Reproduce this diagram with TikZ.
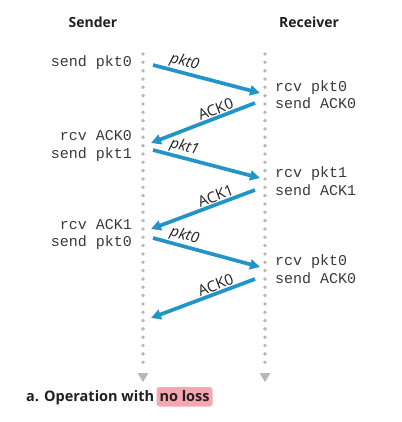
\documentclass[tikz,border=0pt]{standalone}
\usepackage{fontspec}
\setmainfont{Open Sans}
\setmonofont{Liberation Mono}
\usetikzlibrary{arrows.meta,calc}

\definecolor{arrowblue}{HTML}{2394C8}
\definecolor{dotgray}{HTML}{B8B8B8}
\definecolor{hlpink}{HTML}{F4A7AE}
\definecolor{txtdark}{HTML}{231F20}
\definecolor{monotxt}{HTML}{3A3A3A}

\begin{document}
\begin{tikzpicture}[x=1pt,y=-1pt,
  title/.style={font=\fontsize{14}{16}\selectfont\bfseries, text=txtdark, inner sep=0pt},
  evtl/.style={font=\fontsize{15}{17}\selectfont\ttfamily, text=monotxt, anchor=base east, inner sep=0pt},
  evtr/.style={font=\fontsize{15}{17}\selectfont\ttfamily, text=monotxt, anchor=base west, inner sep=0pt},
  msg/.style={draw=arrowblue, line width=3.7pt, -{Triangle[length=10pt,width=10pt]}},
  pktlbl/.style={font=\fontsize{15}{17}\selectfont\itshape, sloped, above, text=txtdark, inner sep=1pt},
  acklbl/.style={font=\fontsize{15}{17}\selectfont, sloped, above, text=txtdark, inner sep=1pt},
  timeline/.style={dotgray, line width=3.8pt, line cap=round, dash pattern=on 0pt off 8.33pt},
  captxt/.style={font=\fontsize{14.5}{16}\selectfont\bfseries, text=txtdark},
]
\useasboundingbox (0,0) rectangle (401,422);

% titles
\node[title] (sender) at (93,22) {Sender};
\node[title] (receiver) at (309,22) {Receiver};

% timelines
\coordinate (stop) at (143,54);
\coordinate (sbot) at (143,368);
\coordinate (rtop) at (265,54);
\coordinate (rbot) at (265,368);
\draw[timeline] (stop) -- (sbot);
\draw[timeline] (rtop) -- (rbot);
\fill[dotgray] (137.5,373) -- (148.5,373) -- (143,382) -- cycle;
\fill[dotgray] (259.5,373) -- (270.5,373) -- (265,382) -- cycle;

% events
\node[evtl] (e1) at (132,67) {send pkt0};
\node[evtr] (e2) at (275,92) {rcv pkt0};
\node[evtr] (e3) at (275,109) {send ACK0};
\node[evtl] (e4) at (132,140) {rcv ACK0};
\node[evtl] (e5) at (132,158) {send pkt1};
\node[evtr] (e6) at (275,177) {rcv pkt1};
\node[evtr] (e7) at (275,195) {send ACK1};
\node[evtl] (e8) at (132,229) {rcv ACK1};
\node[evtl] (e9) at (132,246) {send pkt0};
\node[evtr] (e10) at (275,265) {rcv pkt0};
\node[evtr] (e11) at (275,283) {send ACK0};

% message endpoints
\coordinate (s1) at (153,65);  \coordinate (r1) at (260,93);
\coordinate (r2) at (255,103); \coordinate (s2) at (151,143);
\coordinate (s3) at (153,150); \coordinate (r3) at (260,178);
\coordinate (r4) at (255,190); \coordinate (s4) at (151,229);
\coordinate (s5) at (153,238); \coordinate (r5) at (260,267);
\coordinate (r6) at (255,279); \coordinate (s6) at (151,318);

\draw[msg] (s1) -- node[pktlbl, pos=0.27] (l1) {pkt0} (r1);
\draw[msg] (r2) -- node[acklbl, pos=0.35] (l2) {ACK0} (s2);
\draw[msg] (s3) -- node[pktlbl, pos=0.27] (l3) {pkt1} (r3);
\draw[msg] (r4) -- node[acklbl, pos=0.35] (l4) {ACK1} (s4);
\draw[msg] (s5) -- node[pktlbl, pos=0.27] (l5) {pkt0} (r5);
\draw[msg] (r6) -- node[acklbl, pos=0.35] (l6) {ACK0} (s6);

% caption
\node[captxt, anchor=base west, inner sep=0pt] (cap) at (26,401) {a. Operation with};
\node[captxt, anchor=base west, fill=hlpink, rounded corners=3pt, inner xsep=3pt, inner ysep=3pt, text height=11pt, text depth=2.5pt] (hl) at ($(cap.base east)+(2,0)$) {no loss};
\end{tikzpicture}
\end{document}
